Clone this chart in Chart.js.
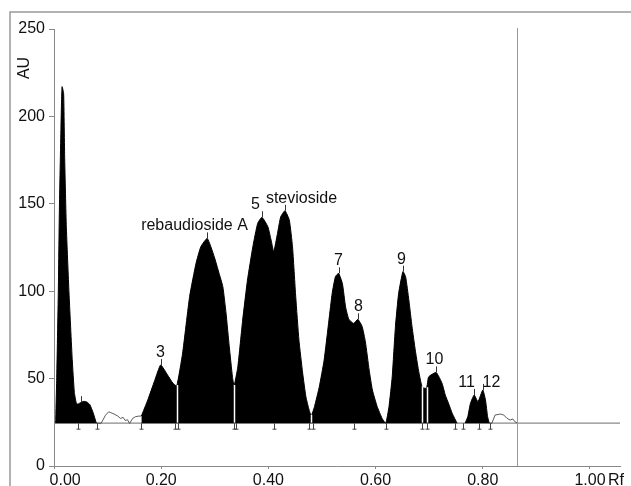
<!DOCTYPE html>
<html>
<head>
<meta charset="utf-8">
<script src="https://cdn.jsdelivr.net/npm/chart.js@4.4.1/dist/chart.umd.min.js"></script>
<style>
  html, body { margin: 0; padding: 0; background: #fff; }
  canvas { display: block; }
</style>
</head>
<body>
<canvas id="c" width="631" height="486"></canvas>
<script>
// ---- Densitogram profile (Rf, AU) ----
const rfValues = [
  0.003, 0.005, 0.008, 0.010, 0.013, 0.015, 0.018, 0.020, 0.023, 0.028, 0.034, 0.038, 0.042, 0.045, 0.051, 0.056, 0.062, 0.067, 0.073, 0.079,
  0.088, 0.096, 0.102, 0.106, 0.110, 0.119, 0.124, 0.129, 0.133, 0.137, 0.141, 0.147, 0.152, 0.157,
  0.163, 0.175, 0.188, 0.199, 0.212, 0.222, 0.229, 0.240, 0.253, 0.265, 0.274, 0.286, 0.299, 0.308, 0.315, 0.321, 0.327, 0.333, 0.336,
  0.343, 0.352, 0.361, 0.371, 0.380, 0.388, 0.399, 0.405, 0.410, 0.417, 0.423, 0.431, 0.439, 0.445, 0.451, 0.457, 0.464, 0.470, 0.476, 0.480,
  0.486, 0.495, 0.504, 0.513, 0.519, 0.525, 0.531, 0.538, 0.544, 0.550, 0.559, 0.567, 0.575, 0.581, 0.588, 0.594, 0.603, 0.612, 0.619,
  0.625, 0.631, 0.637, 0.643, 0.651, 0.656, 0.662, 0.668, 0.674, 0.680, 0.687, 0.695, 0.699, 0.713, 0.724, 0.730, 0.736, 0.743, 0.752,
  0.767, 0.772, 0.777, 0.784, 0.791, 0.800, 0.805, 0.809, 0.812,
  0.817, 0.823, 0.833, 0.839, 0.845, 0.851, 0.856, 0.860, 0.865
];
const auValues = [
  24.5, 49, 99, 146, 194, 217, 213, 175, 137, 99, 61, 42, 35.5, 35.5, 36.5, 37, 36.5, 35, 30.5, 24.5,
  24.5, 29, 31, 30.5, 30, 28.6, 27.2, 27.8, 26, 26.5, 24.4, 27.3, 28.2, 28.5,
  28.6, 37.8, 49, 57.8, 52, 47.3, 45.8, 64.6, 96.9, 116, 125.5, 130.2, 119.7, 110.2, 102.6, 87.4, 68.3, 51, 45.8,
  56.8, 83.5, 106.4, 125.5, 138.8, 142.3, 136.9, 129.3, 122.6, 133.1, 142.6, 146, 140.7, 125.5, 96.9, 72, 53, 39.6, 32, 28.7,
  34, 45.4, 60.6, 83.5, 98.8, 108.3, 110.2, 104.5, 91, 84, 81.6, 83.9, 79.7, 71, 54.9, 43.5, 34, 27.3, 24.5,
  34, 51, 79.7, 98.8, 111.2, 108.3, 95, 79.7, 66.4, 54.9, 45, 44.5, 51, 53.5, 47.3, 40.6, 35.9, 30.1, 24.5,
  24.5, 28.2, 35.9, 40.6, 36.8, 43.5, 37.8, 28.2, 24.5,
  24.5, 29.2, 29.7, 29.2, 27.3, 26.3, 26.9, 25.3, 24.5
];
const baselineAU = 24.5;
const filledRanges = [[0.003, 0.079], [0.163, 0.752], [0.767, 0.812]];
const noiseRanges = [[0.079, 0.163], [0.812, 0.865]];
const separatorRf = [0.229, 0.336, 0.480, 0.687, 0.695];
const boundaryRf = [0.045, 0.081, 0.163, 0.226, 0.231, 0.335, 0.340, 0.411, 0.476, 0.483, 0.560, 0.619, 0.687, 0.696, 0.749, 0.764, 0.792, 0.813];
const peakRf = [0.051, 0.199, 0.286, 0.388, 0.431, 0.531, 0.567, 0.651, 0.713, 0.784, 0.800];
const peakNames = ['', '3', 'rebaudioside A', '5', 'stevioside', '7', '8', '9', '10', '11', '12'];
const frontRf = 0.864;
const xTickValues = [0, 0.2, 0.4, 0.6, 0.8, 1.0];
const yTickValues = [0, 50, 100, 150, 200, 250];

// label placement (layout only)
const labelDx = [0, -1, -13, -7, 16, -1, 0, -2, -2, -8, 8];
const labelDy = [0, 0, 0, 0, 0, 0, 0, 0, 0, 0, 5];

const profile = rfValues.map((r, i) => ({ x: r, y: auValues[i] }));
const auAt = r => { const i = rfValues.indexOf(r); return i >= 0 ? auValues[i] : baselineAU; };
const inRange = (rg) => profile.filter(p => p.x >= rg[0] - 1e-9 && p.x <= rg[1] + 1e-9);

const datasets = [];
filledRanges.forEach(rg => datasets.push({
  data: inRange(rg), borderColor: '#000', backgroundColor: '#000', borderWidth: 1,
  fill: { value: baselineAU }, pointRadius: 0, tension: 0.15, order: 1
}));
noiseRanges.forEach(rg => datasets.push({
  data: inRange(rg), borderColor: '#333', borderWidth: 0.8, fill: false,
  pointRadius: 0, tension: 0, order: 2
}));
datasets.push({
  data: [{ x: 0, y: baselineAU }, { x: 1.056, y: baselineAU }],
  borderColor: '#8a8a8a', borderWidth: 1.2, fill: false, pointRadius: 0, order: 5
});

const FONT = "'Liberation Sans', Arial, Helvetica, sans-serif";
Chart.defaults.font.family = FONT;
Chart.defaults.color = '#111';

const annot = {
  id: 'annot',
  afterDatasetsDraw(chart) {
    const { ctx, chartArea: ca } = chart;
    const x = chart.scales.x, y = chart.scales.y;
    const yb = y.getPixelForValue(baselineAU);
    ctx.save();
    // white separators between adjacent peaks
    ctx.strokeStyle = '#fff';
    ctx.lineWidth = 1.5;
    separatorRf.forEach(r => {
      const px = Math.round(x.getPixelForValue(r)) + 0.5;
      ctx.beginPath();
      ctx.moveTo(px, yb - 0.5);
      ctx.lineTo(px, y.getPixelForValue(auAt(r)) - 1);
      ctx.stroke();
    });
    // boundary marks under the baseline
    ctx.strokeStyle = '#444';
    ctx.lineWidth = 1;
    boundaryRf.forEach(r => {
      const px = Math.round(x.getPixelForValue(r)) + 0.5;
      ctx.beginPath();
      ctx.moveTo(px, yb);
      ctx.lineTo(px, yb + 6);
      ctx.moveTo(px - 2, yb + 6);
      ctx.lineTo(px + 2, yb + 6);
      ctx.stroke();
    });
    // peak ticks & labels
    ctx.fillStyle = '#111';
    ctx.font = '16px ' + FONT;
    ctx.textAlign = 'center';
    ctx.textBaseline = 'alphabetic';
    peakRf.forEach((r, i) => {
      const px = Math.round(x.getPixelForValue(r)) + 0.5;
      const py = y.getPixelForValue(auAt(r));
      ctx.strokeStyle = '#333';
      ctx.beginPath();
      ctx.moveTo(px, py);
      ctx.lineTo(px, py - 6);
      ctx.stroke();
      if (peakNames[i]) ctx.fillText(peakNames[i], px + labelDx[i], py - 8 + labelDy[i]);
    });
    // solvent front line
    const fx = Math.round(x.getPixelForValue(frontRf)) + 0.5;
    ctx.strokeStyle = '#999';
    ctx.lineWidth = 1;
    ctx.beginPath();
    ctx.moveTo(fx, ca.top - 1);
    ctx.lineTo(fx, ca.bottom);
    ctx.stroke();
    // axis titles
    ctx.font = '16px ' + FONT;
    ctx.textAlign = 'center';
    ctx.textBaseline = 'middle';
    ctx.fillText('Rf', 616, 481);
    ctx.save();
    ctx.translate(25, 68);
    ctx.rotate(-Math.PI / 2);
    ctx.fillText('AU', 0, 0);
    ctx.restore();
    // outer frame
    ctx.strokeStyle = '#999';
    ctx.lineWidth = 1.5;
    ctx.beginPath();
    ctx.moveTo(10, 486);
    ctx.lineTo(10, 12);
    ctx.lineTo(631, 12);
    ctx.stroke();
    ctx.restore();
  }
};

new Chart(document.getElementById('c'), {
  type: 'line',
  data: { datasets },
  options: {
    responsive: false,
    devicePixelRatio: 1,
    animation: false,
    layout: { padding: { left: 10, top: 29, right: 11, bottom: 0 } },
    plugins: { legend: { display: false }, tooltip: { enabled: false } },
    scales: {
      x: {
        type: 'linear', min: 0, max: 1.056,
        afterBuildTicks: s => { s.ticks = xTickValues.map(v => ({ value: v })); },
        afterFit: s => { s.height = 20; },
        ticks: {
          autoSkip: false, maxRotation: 0, padding: 2, color: '#111',
          font: { size: 16 },
          callback: v => v === 0 ? '     0.00' : Number(v).toFixed(2)
        },
        grid: { drawOnChartArea: false, tickLength: 3, color: '#888' },
        border: { color: '#888', width: 1 }
      },
      y: {
        type: 'linear', min: 0, max: 250,
        afterBuildTicks: s => { s.ticks = yTickValues.map(v => ({ value: v })); },
        afterFit: s => { s.width = 44; },
        ticks: { padding: 4, color: '#111', font: { size: 16 } },
        grid: { drawOnChartArea: false, tickLength: 5, color: '#888' },
        border: { color: '#888', width: 1 }
      }
    }
  },
  plugins: [annot]
});
</script>
</body>
</html>
